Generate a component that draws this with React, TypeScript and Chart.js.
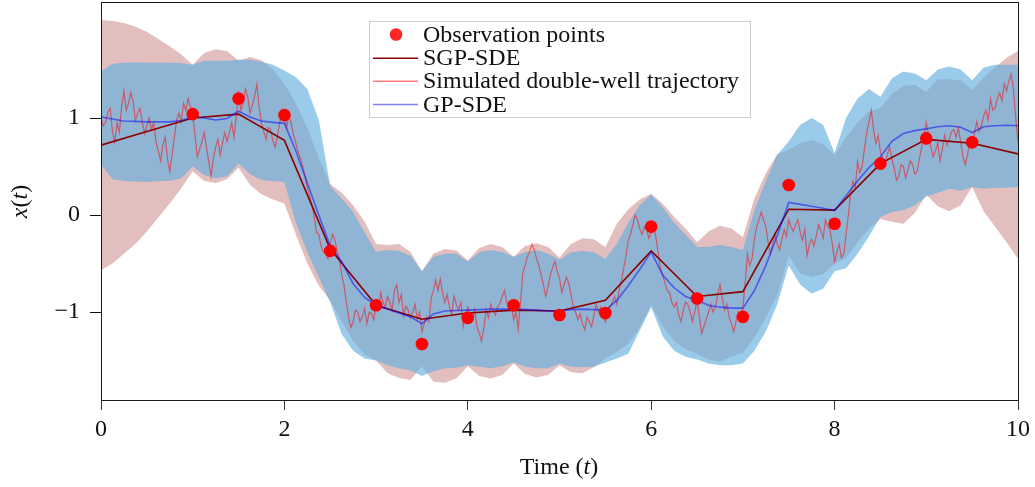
import React, { useEffect, useRef } from 'react';
import { Chart, registerables } from 'chart.js';

Chart.register(...registerables);

const W = 1035;
const H = 487;
const SERIF = '"Liberation Serif", "Times New Roman", serif';

// ---- observation points ----
const obsTimes = [1.0, 1.5, 2.0, 2.5, 3.0, 3.5, 4.0, 4.5, 5.0, 5.5, 6.0, 6.5, 7.0, 7.5, 8.0, 8.5, 9.0, 9.5];
const obsValues = [1.04, 1.2, 1.03, -0.37, -0.93, -1.33, -1.06, -0.93, -1.03, -1.01, -0.12, -0.86, -1.05, 0.31, -0.09, 0.53, 0.79, 0.75];

// ---- SGP-SDE mean (knots every 0.5) ----
const sgpTimes = [0, 0.5, 1, 1.5, 2, 2.5, 3, 3.5, 4, 4.5, 5, 5.5, 6, 6.5, 7, 7.5, 8, 8.5, 9, 9.5, 10];
const sgpMean = [0.72, 0.86, 1.0, 1.04, 0.77, -0.35, -0.93, -1.075, -1.01, -0.98, -0.99, -0.88, -0.37, -0.84, -0.79, 0.06, 0.05, 0.53, 0.78, 0.74, 0.63];

// ---- bands and GP mean sampled every 0.125 ----
const BAND_STEP = 0.125;
const sgpUpper = [2.01, 2.0, 1.98, 1.94, 1.89, 1.815, 1.74, 1.655, 1.55, 1.67, 1.71, 1.69, 1.59, 1.63, 1.595, 1.5, 1.35, 1.15, 0.9, 0.59, 0.32, 0.23, 0.1, -0.07, -0.3, -0.31, -0.3, -0.38, -0.58, -0.4, -0.35, -0.365, -0.47, -0.34, -0.3, -0.33, -0.43, -0.32, -0.29, -0.33, -0.44, -0.3, -0.24, -0.25, -0.33, -0.09, 0.06, 0.16, 0.22, 0.12, -0.02, -0.14, -0.28, -0.17, -0.11, -0.14, -0.23, 0.17, 0.43, 0.63, 0.67, 0.74, 0.77, 0.73, 0.62, 0.8, 0.95, 1.07, 1.1, 1.25, 1.33, 1.34, 1.27, 1.4, 1.4, 1.39, 1.29, 1.42, 1.52, 1.62, 1.69];
const sgpLower = [-0.57, -0.5, -0.4, -0.3, -0.17, -0.025, 0.12, 0.275, 0.45, 0.35, 0.33, 0.37, 0.49, 0.31, 0.215, 0.16, 0.12, -0.2, -0.5, -0.73, -0.88, -1.1, -1.3, -1.44, -1.5, -1.63, -1.68, -1.7, -1.56, -1.72, -1.73, -1.685, -1.56, -1.66, -1.685, -1.65, -1.53, -1.64, -1.675, -1.65, -1.55, -1.62, -1.63, -1.57, -1.48, -1.41, -1.33, -1.16, -0.93, -1.15, -1.3, -1.38, -1.43, -1.49, -1.51, -1.46, -1.42, -1.26, -1.06, -0.83, -0.42, -0.6, -0.64, -0.61, -0.5, -0.44, -0.28, -0.14, -0.04, -0.07, -0.09, 0.02, 0.21, 0.09, 0.04, 0.1, 0.29, 0.04, -0.12, -0.28, -0.45];
const gpUpper = [1.48, 1.56, 1.57, 1.575, 1.57, 1.57, 1.57, 1.565, 1.55, 1.59, 1.59, 1.59, 1.6, 1.6, 1.58, 1.55, 1.49, 1.42, 1.3, 0.98, 0.3, 0.17, 0.03, -0.18, -0.38, -0.36, -0.37, -0.42, -0.58, -0.43, -0.4, -0.4, -0.48, -0.385, -0.36, -0.38, -0.43, -0.385, -0.36, -0.4, -0.46, -0.385, -0.37, -0.385, -0.45, -0.3, -0.08, 0.1, 0.21, 0.08, -0.08, -0.2, -0.33, -0.33, -0.31, -0.33, -0.36, 0.05, 0.35, 0.62, 0.76, 0.93, 1.0, 0.93, 0.64, 1.0, 1.2, 1.3, 1.22, 1.41, 1.48, 1.46, 1.39, 1.5, 1.53, 1.5, 1.39, 1.52, 1.55, 1.55, 1.55];
const gpLower = [0.52, 0.37, 0.35, 0.345, 0.34, 0.35, 0.35, 0.38, 0.5, 0.41, 0.38, 0.4, 0.53, 0.42, 0.36, 0.35, 0.34, -0.08, -0.38, -0.64, -0.9, -1.23, -1.4, -1.48, -1.5, -1.55, -1.58, -1.6, -1.66, -1.61, -1.58, -1.575, -1.55, -1.565, -1.58, -1.56, -1.52, -1.565, -1.58, -1.58, -1.53, -1.565, -1.57, -1.565, -1.52, -1.48, -1.43, -1.19, -0.95, -1.25, -1.4, -1.46, -1.49, -1.53, -1.55, -1.55, -1.53, -1.4, -1.2, -0.92, -0.52, -0.72, -0.81, -0.76, -0.58, -0.55, -0.4, -0.22, -0.02, 0.03, 0.05, 0.1, 0.19, 0.23, 0.27, 0.25, 0.29, 0.27, 0.28, 0.28, 0.29];
const gpMean = [1.01, 0.99, 0.97, 0.965, 0.96, 0.96, 0.96, 0.975, 1.01, 1.0, 0.98, 0.995, 1.07, 1.01, 0.97, 0.955, 0.945, 0.66, 0.33, 0.0, -0.32, -0.48, -0.71, -0.85, -0.93, -0.97, -1.01, -1.05, -1.12, -1.02, -0.99, -0.985, -0.98, -0.975, -0.97, -0.97, -0.97, -0.975, -0.98, -0.99, -0.99, -0.975, -0.97, -0.975, -0.98, -0.88, -0.73, -0.56, -0.38, -0.62, -0.75, -0.84, -0.88, -0.93, -0.95, -0.96, -0.96, -0.78, -0.52, -0.21, 0.13, 0.11, 0.09, 0.07, 0.045, 0.2, 0.35, 0.49, 0.6, 0.76, 0.84, 0.87, 0.89, 0.91, 0.92, 0.905, 0.85, 0.91, 0.92, 0.925, 0.92];

// ---- simulated trajectory sampled every 0.025 ----
const TRAJ_STEP = 0.025;
const trajectory = [
  1.0, 0.92, 0.96, 1.06, 1.1, 0.86, 0.75, 0.95, 0.85, 1.12, 1.28, 1.08, 1.15, 1.26, 1.17, 0.98, 1.05, 1.1, 0.96, 0.84,
  0.92, 1.0, 0.88, 0.95, 0.75, 0.66, 0.56, 0.72, 0.8, 0.58, 0.45, 0.62, 0.8, 0.98, 1.05, 0.96, 1.15, 1.08, 1.2, 1.12,
  1.05, 0.82, 0.6, 0.68, 0.75, 0.85, 0.7, 0.55, 0.4, 0.58, 0.7, 0.78, 0.62, 0.74, 0.85, 0.76, 0.85, 0.95, 0.8, 1.02,
  1.25, 1.08, 1.15, 1.3, 1.22, 1.05, 1.13, 1.22, 1.35, 1.1, 0.95, 0.86, 0.78, 0.9, 0.88, 0.76, 0.7, 0.82, 0.95, 1.08,
  1.0, 0.9, 1.05, 0.94, 0.82, 0.74, 0.65, 0.58, 0.5, 0.4, 0.28, 0.2, 0.1, -0.02, -0.18, -0.2, -0.32, -0.38, -0.4, -0.45,
  -0.3, -0.2, -0.25, -0.38, -0.45, -0.62, -0.72, -0.9, -1.05, -1.16, -1.1, -0.98, -1.0, -1.1, -1.05, -0.96, -1.12, -1.0, -1.02, -1.08,
  -0.92, -0.98, -0.8, -0.9, -0.95, -0.84, -0.9, -0.98, -0.78, -0.72, -0.9, -0.82, -1.04, -0.94, -0.98, -1.06, -1.0, -0.92, -1.08, -1.0,
  -1.2, -1.12, -1.05, -1.1, -0.86, -0.78, -0.67, -0.78, -0.66, -0.8, -0.9, -0.82, -0.95, -1.02, -0.84, -0.92, -0.98, -0.9, -1.15, -1.05,
  -0.95, -1.02, -1.08, -0.98, -1.15, -1.22, -1.3, -1.16, -0.98, -1.06, -0.92, -0.98, -1.03, -0.95, -0.91, -0.84, -0.78, -0.9, -0.98, -0.92,
  -1.08, -1.0, -1.18, -0.9, -0.6, -0.52, -0.43, -0.38, -0.3, -0.36, -0.45, -0.52, -0.62, -0.72, -0.84, -0.74, -0.62, -0.54, -0.48, -0.58,
  -0.65, -0.8, -0.72, -0.64, -0.7, -0.82, -0.95, -1.0, -1.08, -1.02, -1.12, -1.18, -1.05, -1.1, -1.15, -1.04, -0.92, -1.0, -0.95, -1.04,
  -1.1, -1.02, -0.95, -0.9, -0.84, -0.92, -0.78, -0.68, -0.55, -0.42, -0.26, -0.2, -0.1, 0.0, -0.05, -0.14, -0.2, -0.12, -0.15, -0.24,
  -0.18, -0.12, -0.22, -0.38, -0.55, -0.62, -0.7, -0.78, -0.8, -0.9, -0.95, -0.9, -1.03, -1.1, -0.98, -0.9, -0.92, -1.0, -1.1, -1.0,
  -0.88, -1.05, -1.22, -1.15, -1.08, -1.0, -0.92, -1.0, -0.95, -0.82, -0.72, -0.86, -0.98, -0.92, -1.05, -1.12, -1.2, -1.1, -1.0, -1.08,
  -0.95, -0.7, -0.4, -0.52, -0.45, -0.25, -0.12, -0.05, 0.03, -0.05, -0.12, -0.28, -0.4, -0.3, -0.2, -0.3, -0.36, -0.25, -0.15, -0.22,
  -0.05, -0.12, -0.17, -0.1, -0.05, -0.18, -0.26, -0.15, -0.42, -0.3, -0.25, -0.32, -0.22, -0.1, -0.16, -0.24, -0.05, -0.12, -0.15, -0.3,
  -0.48, -0.38, -0.3, -0.44, -0.4, -0.2, 0.0, 0.22, 0.35, 0.28, 0.55, 0.44, 0.5, 0.68, 0.85, 0.96, 1.08, 0.88, 0.74, 0.82,
  0.65, 0.58, 0.53, 0.62, 0.7, 0.58, 0.48, 0.36, 0.4, 0.52, 0.5, 0.38, 0.47, 0.56, 0.52, 0.42, 0.45, 0.58, 0.7, 0.82,
  0.95, 0.82, 0.7, 0.6, 0.66, 0.74, 0.56, 0.68, 0.82, 0.72, 0.78, 0.86, 0.88, 0.8, 0.9, 0.75, 0.6, 0.52, 0.62, 0.78,
  0.7, 0.84, 0.96, 0.86, 0.92, 1.02, 1.08, 0.98, 1.2, 1.08, 1.1, 1.2, 1.26, 1.18, 1.35, 1.28, 1.38, 1.45, 1.3, 1.0,
  0.75,
];

// ---- axes ----
const X_MIN = 0;
const X_MAX = 10;
const Y_MIN = -1.907;
const Y_MAX = 2.196;
const xTickValues = [0, 2, 4, 6, 8, 10];
const yTickValues = [-1, 0, 1];
const legendLabels = ['Observation points', 'SGP-SDE', 'Simulated double-well trajectory', 'GP-SDE'];

const C_OBS = '#ff0000';
const C_SGP = '#8b0000';
const C_TRAJ = 'rgba(255,0,0,0.5)';
const C_GP = 'rgba(0,0,255,0.5)';
const C_SGP_BAND = 'rgb(226,190,190)';
const C_GP_BAND = 'rgba(100,175,223,0.65)';

const pts = (ts: number[], vs: number[]) => vs.map((v, i) => ({ x: ts[i], y: v }));

const decorPlugin = {
  id: 'decor',
  afterDraw(chart: any) {
    const { ctx, chartArea } = chart;
    const { left, right, top, bottom } = chartArea;
    ctx.save();
    // frame
    ctx.strokeStyle = '#1a1a1a';
    ctx.lineWidth = 1;
    ctx.strokeRect(left + 0.5, top + 0.5, right - left, bottom - top);

    // legend
    const bx = 369.5, by = 21.5, bw = 381, bh = 96;
    ctx.fillStyle = 'rgba(255,255,255,0.85)';
    ctx.fillRect(bx, by, bw, bh);
    ctx.strokeStyle = '#cccccc';
    ctx.lineWidth = 1;
    ctx.strokeRect(bx, by, bw, bh);
    const rows = [34.5, 58.3, 81.3, 104.5];
    const styles = [null, { c: C_SGP, w: 1.5 }, { c: C_TRAJ, w: 1.5 }, { c: C_GP, w: 1.5 }];
    ctx.font = `24px ${SERIF}`;
    ctx.textBaseline = 'alphabetic';
    ctx.textAlign = 'left';
    rows.forEach((ry, i) => {
      const st = styles[i];
      if (!st) {
        ctx.beginPath();
        ctx.arc(396, ry, 6.3, 0, Math.PI * 2);
        ctx.fillStyle = 'rgba(255,0,0,0.85)';
        ctx.fill();
      } else {
        ctx.beginPath();
        ctx.moveTo(373, ry);
        ctx.lineTo(418, ry);
        ctx.strokeStyle = st.c;
        ctx.lineWidth = st.w;
        ctx.stroke();
      }
      ctx.fillStyle = '#111';
      ctx.fillText(legendLabels[i], 423, ry + 7);
    });

    // x axis title: Time (t)
    const roman = `24px ${SERIF}`;
    const ital = `italic 24px ${SERIF}`;
    const parts: [string, string][] = [['Time (', roman], ['t', ital], [')', roman]];
    let total = 0;
    parts.forEach(([s, f]) => { ctx.font = f; total += ctx.measureText(s).width; });
    let cx = 559 - total / 2;
    ctx.fillStyle = '#111';
    parts.forEach(([s, f]) => { ctx.font = f; ctx.fillText(s, cx, 473.5); cx += ctx.measureText(s).width; });

    // y axis title: x(t)
    ctx.save();
    ctx.translate(27, 201.5);
    ctx.rotate(-Math.PI / 2);
    const yparts: [string, string][] = [['x', ital], ['(', roman], ['t', ital], [')', roman]];
    let yt = 0;
    yparts.forEach(([s, f]) => { ctx.font = f; yt += ctx.measureText(s).width; });
    let yx = -yt / 2;
    yparts.forEach(([s, f]) => { ctx.font = f; ctx.fillText(s, yx, 0); yx += ctx.measureText(s).width; });
    ctx.restore();

    ctx.restore();
  },
};

export default function App() {
  const ref = useRef<HTMLCanvasElement>(null);

  useEffect(() => {
    const canvas = ref.current;
    if (!canvas) return;
    const bandT = gpMean.map((_, i) => i * BAND_STEP);
    const trajT = trajectory.map((_, i) => i * TRAJ_STEP);
    const noLine = { borderWidth: 0, borderColor: 'rgba(0,0,0,0)', pointRadius: 0 };

    const chart = new Chart(canvas, {
      type: 'line',
      data: {
        datasets: [
          {
            label: legendLabels[0],
            type: 'scatter',
            data: pts(obsTimes, obsValues),
            pointRadius: 6.3,
            pointBackgroundColor: C_OBS,
            pointBorderWidth: 0,
            pointBorderColor: C_OBS,
            showLine: false,
            order: 0,
          } as any,
          {
            label: legendLabels[3],
            data: pts(bandT, gpMean),
            borderColor: C_GP,
            borderWidth: 1.6,
            pointRadius: 0,
            fill: false,
            tension: 0,
            order: 1,
          },
          {
            label: legendLabels[1],
            data: pts(sgpTimes, sgpMean),
            borderColor: C_SGP,
            borderWidth: 1.6,
            pointRadius: 0,
            fill: false,
            tension: 0,
            order: 2,
          },
          {
            label: legendLabels[2],
            data: pts(trajT, trajectory),
            borderColor: C_TRAJ,
            borderWidth: 1.2,
            pointRadius: 0,
            fill: false,
            tension: 0,
            order: 3,
          },
          { label: 'gpLower', data: pts(bandT, gpLower), ...noLine, fill: false, order: 4 },
          { label: 'gpUpper', data: pts(bandT, gpUpper), ...noLine, fill: 4, backgroundColor: C_GP_BAND, order: 5 },
          { label: 'sgpLower', data: pts(bandT, sgpLower), ...noLine, fill: false, order: 6 },
          { label: 'sgpUpper', data: pts(bandT, sgpUpper), ...noLine, fill: 6, backgroundColor: C_SGP_BAND, order: 7 },
        ],
      },
      options: {
        responsive: false,
        animation: false,
        devicePixelRatio: 1,
        layout: { autoPadding: false, padding: { top: 2, right: 17, left: 0, bottom: 0 } },
        plugins: {
          legend: { display: false },
          tooltip: { enabled: false },
        },
        scales: {
          x: {
            type: 'linear',
            min: X_MIN,
            max: X_MAX,
            afterBuildTicks: (s: any) => { s.ticks = xTickValues.map((v) => ({ value: v })); },
            afterFit: (s: any) => {
              s.height = 87;
              s.paddingLeft = 0;
              s.paddingRight = 0;
            },
            grid: { display: true, drawOnChartArea: false, drawTicks: true, tickLength: 10, tickColor: '#333', lineWidth: 1 },
            border: { display: false },
            ticks: {
              font: { family: SERIF, size: 24 },
              color: '#111',
              padding: 5,
              maxRotation: 0,
              autoSkip: false,
              callback: (v: any) => String(v),
            },
          },
          y: {
            type: 'linear',
            min: Y_MIN,
            max: Y_MAX,
            afterBuildTicks: (s: any) => { s.ticks = yTickValues.map((v) => ({ value: v })); },
            afterFit: (s: any) => {
              s.width = 101;
              s.paddingTop = 0;
              s.paddingBottom = 0;
            },
            grid: { display: true, drawOnChartArea: false, drawTicks: true, tickLength: 11, tickColor: '#111', lineWidth: 1 },
            border: { display: false },
            ticks: {
              font: { family: SERIF, size: 24 },
              color: '#111',
              padding: 10,
              autoSkip: false,
              callback: (v: any) => (v < 0 ? '\u2212' + Math.abs(v) : String(v)),
            },
          },
        },
      },
      plugins: [decorPlugin],
    } as any);

    return () => chart.destroy();
  }, []);

  return (
    <div style={{ position: 'absolute', left: 0, top: 0, width: W, height: H, background: '#fff' }}>
      <canvas ref={ref} width={W} height={H} style={{ display: 'block', width: W, height: H }} />
    </div>
  );
}
